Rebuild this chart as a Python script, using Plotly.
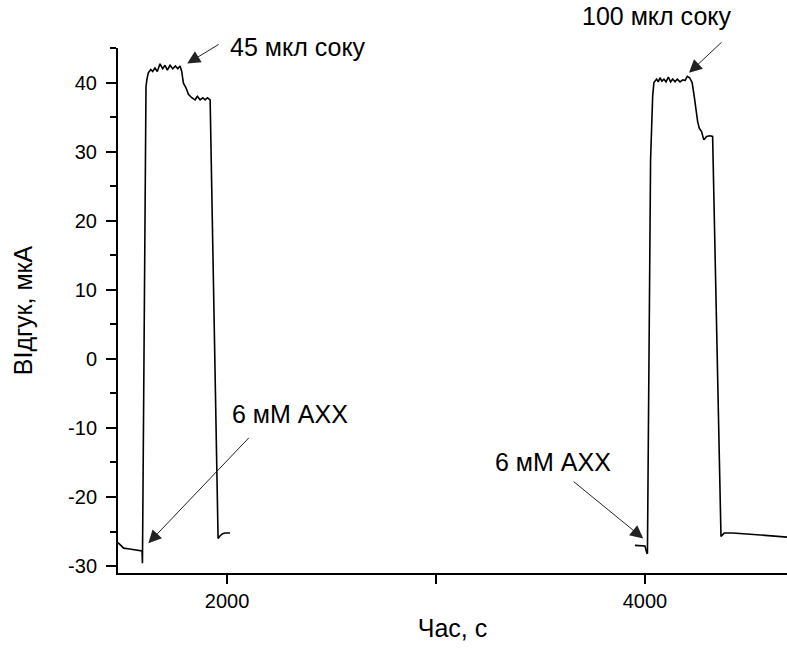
import plotly.graph_objects as go

# Time (s) and response (uA)
t_left = [1478, 1490, 1505, 1526, 1560, 1593, 1595, 1612, 1616, 1623, 1635, 1644, 1655, 1666,
          1679, 1692, 1703, 1714, 1727, 1740, 1753, 1764, 1775, 1783, 1791, 1804, 1815, 1831,
          1847, 1858, 1871, 1884, 1895, 1906, 1919, 1957, 1967, 1979, 1990, 2014]
i_left = [-26.6, -27.0, -27.4, -27.5, -27.6, -27.8, -29.6, 39.4, 40.4, 41.4, 41.9, 41.6, 42.1, 41.6,
          42.7, 42.0, 42.5, 41.8, 42.5, 42.0, 42.4, 42.0, 42.4, 41.6, 39.9, 39.2, 38.3, 37.8,
          37.5, 38.0, 37.5, 37.8, 37.5, 37.8, 37.5, -26.0, -25.6, -25.3, -25.2, -25.2]

t_right = [3952, 3975, 4000, 4009, 4012, 4027, 4037, 4043, 4048, 4056, 4064, 4072, 4081, 4091,
           4101, 4112, 4123, 4133, 4144, 4155, 4168, 4181, 4192, 4203, 4214, 4226, 4236, 4244,
           4252, 4260, 4271, 4282, 4295, 4311, 4324, 4364, 4380, 4421, 4550, 4680]
i_right = [-27.0, -27.0, -27.1, -28.1, -28.2, 28.8, 38.0, 40.0, 40.2, 40.5, 40.1, 40.7, 40.2, 40.5,
           40.1, 40.8, 40.1, 40.5, 40.1, 40.5, 40.1, 40.4, 40.3, 40.9, 40.7, 40.0, 38.0, 36.1,
           34.4, 33.4, 32.9, 31.7, 32.2, 32.3, 32.2, -25.7, -25.2, -25.2, -25.5, -25.8]

y_tickvals = [-30, -20, -10, 0, 10, 20, 30, 40]
y_ticktext = ["-30", "-20", "-10", "0", "10", "20", "30", "40"]
x_tickvals = [2000, 4000]
x_ticktext = ["2000", "4000"]

x_title = "Час, с"
y_title = "ВІдгук, мкА"
label_45 = "45 мкл соку"
label_100 = "100 мкл соку"
label_axx = "6 мМ АХХ"

FONT = "Liberation Sans, Arial, sans-serif"

fig = go.Figure()
for tx, iy in ((t_left, i_left), (t_right, i_right)):
    fig.add_trace(go.Scatter(x=tx, y=iy, mode="lines",
                             line=dict(color="black", width=1.6),
                             showlegend=False, hoverinfo="skip"))

text_ann = [
    dict(text=label_45, x=2005, y=1.001, xanchor="left"),
    dict(text=label_100, x=4421, y=1.061, xanchor="right"),
    dict(text=label_axx, x=2014, y=0.303, xanchor="left"),
    dict(text=label_axx, x=3273, y=0.212, xanchor="left"),
]
for a in text_ann:
    fig.add_annotation(text=a["text"], x=a["x"], y=a["y"], xref="x", yref="paper",
                       xanchor=a["xanchor"], yanchor="middle", showarrow=False,
                       font=dict(family=FONT, size=25, color="black"))

arrows = [
    (1809, 42.75, 33, -20),
    (4211, 41.4, 34, -32),
    (1623, -26.7, 102, -107),
    (3992, -26.0, -71, -58),
]
for hx, hy, ax, ay in arrows:
    fig.add_annotation(text="", x=hx, y=hy, xref="x", yref="y", ax=ax, ay=ay,
                       showarrow=True, arrowhead=2, arrowsize=2.6, arrowwidth=1,
                       arrowcolor="#222")

fig.update_layout(
    width=787, height=654,
    margin=dict(l=118, r=0, t=48, b=81),
    paper_bgcolor="white", plot_bgcolor="white",
    font=dict(family=FONT, size=20, color="black"),
    xaxis=dict(range=[1478, 4680], tickmode="array", tickvals=x_tickvals, ticktext=x_ticktext,
               ticks="outside", ticklen=9, tickfont=dict(size=20),
               tickwidth=1.5, tickcolor="black", showline=True, linecolor="black",
               linewidth=2, showgrid=False, zeroline=False, ticklabelstandoff=0,
               minor=dict(tick0=0, dtick=1000, ticks="outside", ticklen=9, tickwidth=1.5,
                          tickcolor="black", showgrid=False),
               title=dict(text=x_title, font=dict(size=25), standoff=8)),
    yaxis=dict(range=[-31, 45], tickmode="array", tickvals=y_tickvals, ticktext=y_ticktext,
               ticks="outside", ticklen=10, tickfont=dict(size=20),
               tickwidth=1.5, tickcolor="black", showline=True, linecolor="black",
               linewidth=2, showgrid=False, zeroline=False, ticklabelstandoff=5,
               minor=dict(tick0=0, dtick=5, ticks="outside", ticklen=6, tickwidth=1.5,
                          tickcolor="black", showgrid=False),
               title=dict(text=y_title, font=dict(size=25), standoff=28)),
)

fig.write_html("out.html")
